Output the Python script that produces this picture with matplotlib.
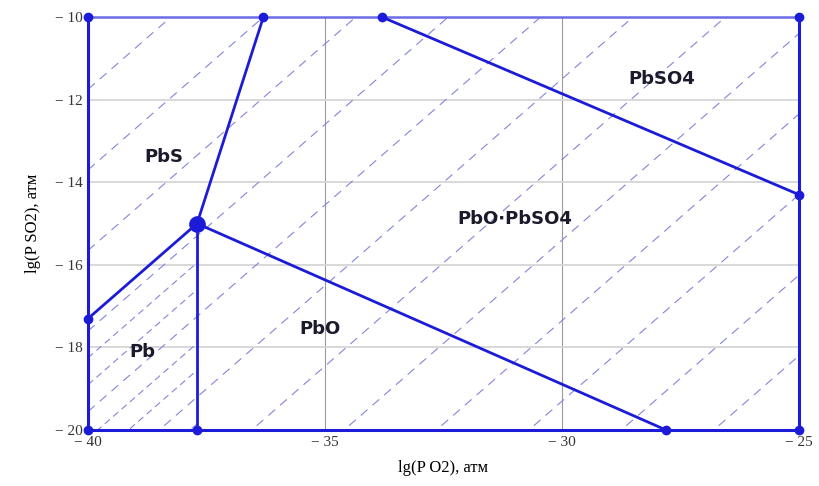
import numpy as np
import matplotlib.pyplot as plt
from matplotlib.path import Path

# phase boundaries, lg(P O2) vs lg(P SO2)
triple = (-37.7, -15.0)
pbs_line_x = [-37.7, -36.3]
pbs_line_y = [-15.0, -10.0]
pb_line_x = [-40.0, -37.7]
pb_line_y = [-17.3, -15.0]
pb_pbo_x = [-37.7, -37.7]
pb_pbo_y = [-15.0, -20.0]
pbo_line_x = [-37.7, -27.8]
pbo_line_y = [-15.0, -20.0]
pbso4_line_x = [-33.8, -25.0]
pbso4_line_y = [-10.0, -14.3]

# end points drawn as dots
dot_x = [-40.0, -36.3, -33.8, -25.0, -25.0, -25.0, -27.8, -37.7, -40.0, -40.0]
dot_y = [-10.0, -10.0, -10.0, -10.0, -14.3, -20.0, -20.0, -20.0, -20.0, -17.3]

# dashed iso-lines y = x + c
iso_c = [6.8, 8.75, 10.7, 12.65, 14.6, 16.55, 18.5, 20.45, 22.4, 24.35, 26.3, 28.25]
pb_iso_c = [17.85, 19.15, 19.8, 21.1, 21.75]
pb_region = [(-40.0, -20.0), (-37.7, -20.0), (-37.7, -15.0), (-40.0, -17.3), (-40.0, -20.0)]

labels = ["PbS", "PbSO4", "PbO\u2219PbSO4", "PbO", "Pb"]
label_x = [-38.4, -27.9, -31.0, -35.1, -38.85]
label_y = [-13.4, -11.5, -14.9, -17.55, -18.1]

xticks = [-40, -35, -30, -25]
xtick_labels = ["\u2212 40", "\u2212 35", "\u2212 30", "\u2212 25"]
yticks = [-10, -12, -14, -16, -18, -20]
ytick_labels = ["\u2212 10", "\u2212 12", "\u2212 14", "\u2212 16", "\u2212 18", "\u2212 20"]

blue = "#1c1cd8"
dash_col = "#8484dc"

fig = plt.figure(figsize=(8.19, 4.86), dpi=100)
ax = fig.add_axes([0.1075, 0.115, 0.868, 0.85])
ax.set_xlim(-40, -25)
ax.set_ylim(-20, -10)

# grid
for x in xticks[1:-1]:
    ax.axvline(x, color="#9a9a9a", lw=0.8, zorder=1)
for y in yticks[1:-1]:
    ax.axhline(y, color="#d6d6d6", lw=1.3, zorder=1)

xs = np.array([-40.0, -25.0])
for c in iso_c:
    ax.plot(xs, xs + c, color=dash_col, lw=0.8, dashes=(8, 6), zorder=2)

# denser hatching inside the Pb field
pb_path = Path(pb_region, closed=True)
for c in pb_iso_c:
    ln, = ax.plot(xs, xs + c, color=dash_col, lw=0.8, dashes=(6, 4), zorder=2)
    ln.set_clip_path(pb_path, ax.transData)

for lx, ly in [(pbs_line_x, pbs_line_y), (pb_line_x, pb_line_y), (pb_pbo_x, pb_pbo_y),
               (pbo_line_x, pbo_line_y), (pbso4_line_x, pbso4_line_y)]:
    ax.plot(lx, ly, color=blue, lw=2, zorder=3, solid_capstyle="round")

ax.plot(dot_x, dot_y, "o", color=blue, ms=6, zorder=4, clip_on=False)
ax.plot(*triple, "o", color=blue, ms=11, zorder=4)

for t, x, y in zip(labels, label_x, label_y):
    ax.text(x, y, t, ha="center", va="center", fontsize=13, fontweight="bold",
            color="#1a1a2a", family="DejaVu Sans", zorder=5)

# frame
for side in ["left", "right", "bottom"]:
    ax.spines[side].set_color(blue)
    ax.spines[side].set_linewidth(2.2)
ax.spines["top"].set_color("#6c6ce6")
ax.spines["top"].set_linewidth(1.8)

ax.set_xticks(xticks)
ax.set_xticklabels(xtick_labels)
ax.set_yticks(yticks)
ax.set_yticklabels(ytick_labels)
ax.tick_params(length=0, labelsize=11, labelcolor="#333333", pad=4)
for lab in ax.get_xticklabels() + ax.get_yticklabels():
    lab.set_family("Liberation Serif")

ax.set_xlabel("lg(P O2), атм", family="Liberation Serif", fontsize=12, labelpad=8)
ax.set_ylabel("lg(P SO2), атм", family="Liberation Serif", fontsize=12, labelpad=10)

fig.savefig("out.png", dpi=100)
